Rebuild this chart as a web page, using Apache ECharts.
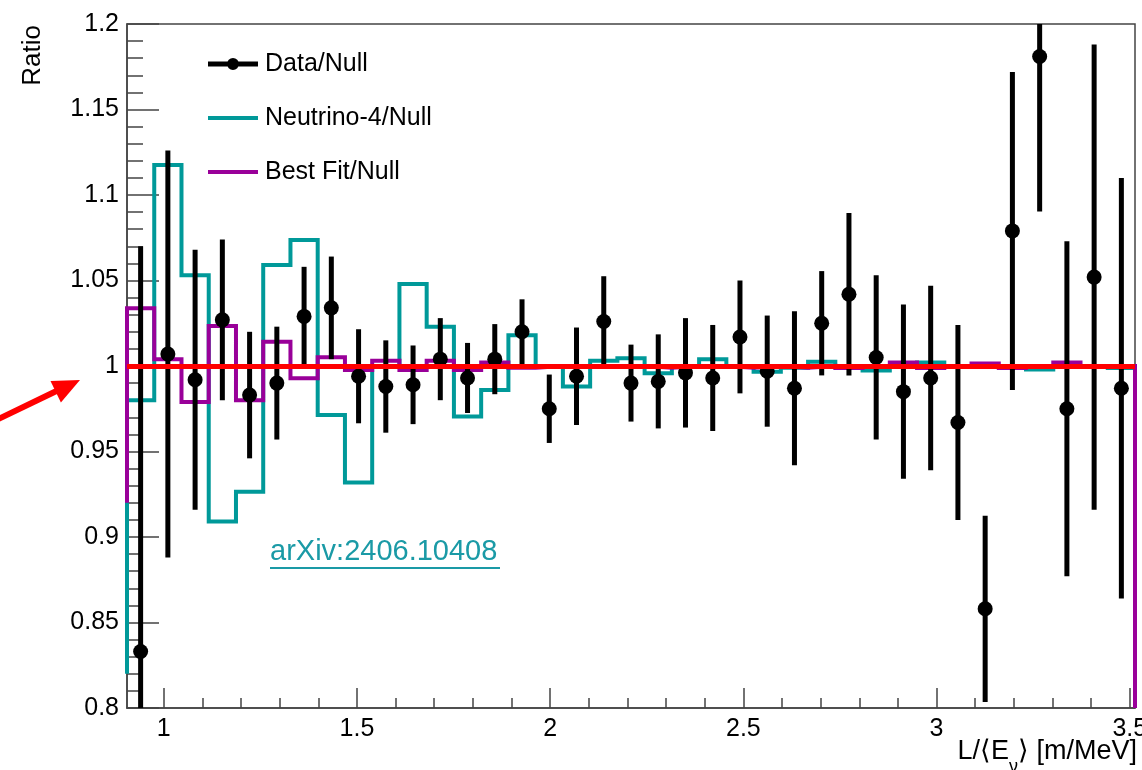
<!DOCTYPE html>
<html>
<head>
<meta charset="utf-8">
<title>Ratio to null hypothesis vs L/E</title>
<script src="https://cdn.jsdelivr.net/npm/echarts@6/dist/echarts.min.js"></script>
<style>
  html, body { margin: 0; padding: 0; background: #fff; }
  #chart { width: 1142px; height: 770px; }
</style>
</head>
<body>
<div id="chart"></div>
<script>
// Bin edges in L/<E> [m/MeV] (37 bins)
const binEdges = [
  0.905, 0.9755, 1.046, 1.1165, 1.187, 1.2575, 1.328, 1.3985, 1.469, 1.5395,
  1.61, 1.6805, 1.751, 1.8215, 1.892, 1.9625, 2.033, 2.1035, 2.174, 2.2445,
  2.315, 2.3855, 2.456, 2.5265, 2.597, 2.6675, 2.738, 2.8085, 2.879, 2.9495,
  3.02, 3.0905, 3.161, 3.2315, 3.302, 3.3725, 3.443, 3.5135
];

// Measured ratio Data/Null and its uncertainty per bin
const dataRatio = [
  0.833, 1.007, 0.992, 1.027, 0.983, 0.990, 1.029, 1.034, 0.994, 0.988,
  0.989, 1.004, 0.993, 1.004, 1.020, 0.975, 0.994, 1.026, 0.990, 0.991,
  0.996, 0.993, 1.017, 0.997, 0.987, 1.025, 1.042, 1.005, 0.985, 0.993,
  0.967, 0.858, 1.079, 1.181, 0.975, 1.052, 0.987
];
const dataError = [
  0.237, 0.119, 0.076, 0.047, 0.037, 0.033, 0.029, 0.030, 0.0275, 0.027,
  0.023, 0.024, 0.0205, 0.0205, 0.019, 0.020, 0.0285, 0.0265, 0.0225, 0.0275,
  0.032, 0.031, 0.033, 0.0325, 0.045, 0.0305, 0.0475, 0.048, 0.051, 0.054,
  0.057, 0.0545, 0.093, 0.0906, 0.098, 0.136, 0.123
];

// Neutrino-4 prediction / Null
const neutrino4Ratio = [
  0.980, 1.1175, 1.053, 0.909, 0.9265, 1.059, 1.0737, 0.9713, 0.9318, 1.000,
  1.048, 1.023, 0.9705, 0.986, 1.018, 1.000, 0.988, 1.003, 1.0045, 0.9957,
  1.000, 1.004, 1.000, 0.9967, 0.999, 1.0025, 1.000, 0.9973, 1.000, 1.002,
  1.000, 1.000, 1.000, 0.998, 1.000, 1.000, 0.9988
];
const neutrino4Ends = [0.82, 0.80];

// Best fit / Null
const bestFitRatio = [
  1.0337, 1.004, 0.979, 1.0234, 0.980, 1.0142, 0.9928, 1.0051, 0.9977, 1.003,
  0.9977, 1.003, 0.9977, 1.002, 0.999, 1.000, 1.000, 1.000, 1.000, 0.999,
  1.000, 1.000, 0.999, 1.000, 0.999, 1.000, 0.9988, 1.000, 1.002, 0.9988,
  1.000, 1.0015, 0.9988, 1.000, 1.002, 1.000, 1.000
];
const bestFitEnds = [0.92, 0.80];

// Axis ranges and tick positions
const xRange = [0.905, 3.5135];
const yRange = [0.8, 1.2];
const xMajorTicks = [1, 1.5, 2, 2.5, 3, 3.5];
const xMinorTicks = [1.1, 1.2, 1.3, 1.4, 1.6, 1.7, 1.8, 1.9, 2.1, 2.2, 2.3, 2.4,
                     2.6, 2.7, 2.8, 2.9, 3.1, 3.2, 3.3, 3.4];
const referenceRatio = 1.0;

const FONT = '"Liberation Sans", Arial, Helvetica, sans-serif';
const AXIS_COLOR = '#444';
const TEAL = '#009999';
const MAGENTA = '#990099';
const LINK = '#1a9aa6';

function stepPoints(edges, vals, ends) {
  const pts = [[edges[0], ends[0]]];
  vals.forEach((v, i) => { pts.push([edges[i], v], [edges[i + 1], v]); });
  pts.push([edges[edges.length - 1], ends[1]]);
  return pts;
}

const binCentres = dataRatio.map((_, i) => (binEdges[i] + binEdges[i + 1]) / 2);
const dataPoints = dataRatio.map((v, i) => [binCentres[i], v]);
const dataBars = dataRatio.map((v, i) => [binCentres[i], v, dataError[i]]);

// Legend icons (drawn in a 52 x 15 box; the tail keeps a gap before the text)
const iconData = 'path://M0,5h50v5h-50z M25,1.5a6,6 0 1,1 -0.01,0z M0,0h0.01v0h-0.01z M52,15h0.01v0h-0.01z';
const iconLine = 'path://M0,5.5h50v4h-50z M0,0h0.01v0h-0.01z M52,15h0.01v0h-0.01z';

const chart = echarts.init(document.getElementById('chart'), null, { renderer: 'canvas' });

const option = {
  animation: false,
  backgroundColor: '#fff',
  grid: {
    left: 127, right: 7, top: 24, bottom: 62,
    outerBoundsMode: 'none', containLabel: false,
    show: true, borderColor: AXIS_COLOR, borderWidth: 1.5, backgroundColor: 'transparent'
  },
  legend: {
    orient: 'vertical',
    left: 203, top: 46,
    itemGap: 28,
    itemWidth: 52, itemHeight: 15,
    selectedMode: false,
    itemStyle: { borderWidth: 0, opacity: 1 },
    textStyle: { fontFamily: FONT, fontSize: 25, lineHeight: 26, color: '#000' },
    data: [
      { name: 'Data/Null', icon: iconData },
      { name: 'Neutrino-4/Null', icon: iconLine },
      { name: 'Best Fit/Null', icon: iconLine }
    ]
  },
  xAxis: [
    {
      type: 'value', min: xRange[0], max: xRange[1],
      axisLine: { show: true, onZero: false, lineStyle: { color: AXIS_COLOR, width: 1.5 } },
      axisTick: { show: true, inside: true, length: 20, customValues: xMajorTicks,
                  lineStyle: { color: AXIS_COLOR, width: 1.5 } },
      axisLabel: { customValues: xMajorTicks, formatter: v => String(v),
                   fontFamily: FONT, fontSize: 25, color: '#000', margin: 9 },
      splitLine: { show: false }
    },
    {
      type: 'value', min: xRange[0], max: xRange[1], position: 'bottom',
      axisLine: { show: false },
      axisTick: { show: true, inside: true, length: 10, customValues: xMinorTicks,
                  lineStyle: { color: AXIS_COLOR, width: 1.5 } },
      axisLabel: { show: false },
      splitLine: { show: false }
    }
  ],
  yAxis: {
    type: 'value', min: yRange[0], max: yRange[1], interval: 0.05,
    axisLine: { show: true, onZero: false, lineStyle: { color: AXIS_COLOR, width: 1.5 } },
    axisTick: { show: true, inside: true, length: 32, lineStyle: { color: AXIS_COLOR, width: 1.5 } },
    minorTick: { show: true, splitNumber: 5, length: 16, lineStyle: { color: AXIS_COLOR, width: 1.5 } },
    axisLabel: { formatter: v => String(parseFloat(v.toFixed(2))),
                 fontFamily: FONT, fontSize: 25, color: '#000', margin: 8 },
    splitLine: { show: false }
  },
  series: [
    {
      name: 'Neutrino-4/Null', type: 'line', z: 2, silent: true,
      color: TEAL, itemStyle: { color: TEAL },
      data: stepPoints(binEdges, neutrino4Ratio, neutrino4Ends),
      showSymbol: false, symbol: 'none', clip: false,
      lineStyle: { color: TEAL, width: 4, join: 'miter' }
    },
    {
      name: 'Best Fit/Null', type: 'line', z: 3, silent: true,
      color: MAGENTA, itemStyle: { color: MAGENTA },
      data: stepPoints(binEdges, bestFitRatio, bestFitEnds),
      showSymbol: false, symbol: 'none', clip: false,
      lineStyle: { color: MAGENTA, width: 4, join: 'miter' }
    },
    {
      name: 'Data/Null', type: 'custom', z: 4, silent: true,
      color: '#000', itemStyle: { color: '#000' },
      data: dataBars,
      encode: { x: 0, y: 1 },
      renderItem: (params, api) => {
        const x = api.value(0), v = api.value(1), e = api.value(2);
        const lo = Math.max(yRange[0], v - e);
        const hi = Math.min(yRange[1], v + e);
        const p1 = api.coord([x, lo]);
        const p2 = api.coord([x, hi]);
        return {
          type: 'line',
          shape: { x1: p1[0], y1: p1[1], x2: p2[0], y2: p2[1] },
          style: { stroke: '#000', lineWidth: 5 }
        };
      }
    },
    {
      name: 'Data/Null', type: 'scatter', z: 5, silent: true,
      color: '#000', itemStyle: { color: '#000', opacity: 1 },
      data: dataPoints, symbol: 'circle', symbolSize: 15,
      markLine: {
        silent: true, z: 10, symbol: 'none', animation: false,
        label: { show: false },
        lineStyle: { color: '#ff0000', width: 5, type: 'solid', opacity: 1 },
        data: [{ yAxis: referenceRatio }]
      }
    }
  ],
  graphic: [
    {
      type: 'text', x: 33, y: 25, rotation: Math.PI / 2,
      style: { text: 'Ratio', fill: '#000', font: '26px ' + FONT,
               textAlign: 'right', textVerticalAlign: 'middle' }
    },
    {
      type: 'text', x: 1137, y: 738,
      style: {
        text: '{n|L/⟨E}{s|ν}{n|⟩ [m/MeV]}',
        textAlign: 'right', textVerticalAlign: 'top',
        rich: {
          n: { fontFamily: FONT, fontSize: 27, lineHeight: 27, verticalAlign: 'top', fill: '#000' },
          s: { fontFamily: FONT, fontSize: 18, lineHeight: 38, verticalAlign: 'bottom', fill: '#000' }
        }
      }
    },
    {
      type: 'text', x: 270, y: 552,
      style: { text: 'arXiv:2406.10408', fill: LINK, font: '29px ' + FONT,
               textAlign: 'left', textVerticalAlign: 'middle' }
    },
    {
      type: 'line', shape: { x1: 270, y1: 568, x2: 500, y2: 568 },
      style: { stroke: LINK, lineWidth: 2 }
    },
    {
      type: 'line', shape: { x1: -5, y1: 420.7, x2: 58, y2: 390.3 },
      style: { stroke: '#ff0000', lineWidth: 6 }
    },
    {
      type: 'polygon', shape: { points: [[80, 380], [50.5, 380.9], [60.9, 402.5]] },
      style: { fill: '#ff0000' }
    }
  ]
};

chart.setOption(option);
</script>
</body>
</html>
